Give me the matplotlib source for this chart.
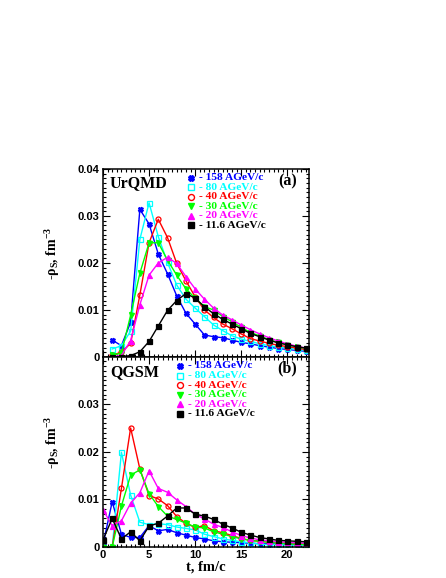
import matplotlib
matplotlib.use('Agg')
import matplotlib.pyplot as plt
from matplotlib.ticker import MultipleLocator

plt.rcParams['mathtext.fontset'] = 'custom'
plt.rcParams['mathtext.rm'] = 'Liberation Serif:bold'
plt.rcParams['mathtext.it'] = 'Liberation Serif:bold'
plt.rcParams['mathtext.bf'] = 'Liberation Serif:bold'

# Datos: UrQMD (t = 1..22)
t_urqmd = [1, 2, 3, 4, 5, 6, 7, 8, 9, 10, 11, 12, 13, 14, 15, 16, 17, 18, 19, 20, 21, 22]
u158 = [0.0036, 0.0024, 0.0074, 0.0314, 0.0283, 0.0219, 0.0177, 0.0130, 0.0093, 0.0070, 0.0047,
        0.0043, 0.0041, 0.0036, 0.0031, 0.0028, 0.0024, 0.0021, 0.0018, 0.0016, 0.0014, 0.0012]
u80 = [0.0017, 0.0024, 0.0055, 0.0250, 0.0328, 0.0256, 0.0201, 0.0153, 0.0123, 0.0104, 0.0086,
       0.0068, 0.0056, 0.0045, 0.0038, 0.0033, 0.0028, 0.0024, 0.0021, 0.0019, 0.0016, 0.0014]
u40 = [0.0004, 0.0010, 0.0029, 0.0132, 0.0243, 0.0293, 0.0254, 0.0199, 0.0162, 0.0128, 0.0100,
       0.0084, 0.0070, 0.0060, 0.0049, 0.0039, 0.0034, 0.0029, 0.0025, 0.0022, 0.0019, 0.0016]
u30 = [0.0004, 0.0008, 0.0089, 0.0178, 0.0243, 0.0243, 0.0206, 0.0174, 0.0145, 0.0125, 0.0107,
       0.0100, 0.0086, 0.0075, 0.0063, 0.0052, 0.0045, 0.0037, 0.0031, 0.0026, 0.0022, 0.0018]
u20 = [0.0001, 0.0003, 0.0035, 0.0111, 0.0174, 0.0200, 0.0212, 0.0199, 0.0171, 0.0145, 0.0123,
       0.0104, 0.0089, 0.0079, 0.0068, 0.0058, 0.0049, 0.0041, 0.0034, 0.0028, 0.0023, 0.0019]
u11 = [0.0000, 0.0001, 0.0003, 0.0011, 0.0033, 0.0066, 0.0099, 0.0120, 0.0135, 0.0125, 0.0107,
       0.0092, 0.0080, 0.0070, 0.0060, 0.0050, 0.0043, 0.0036, 0.0030, 0.0026, 0.0022, 0.0019]

# Datos: QGSM (t = 0..22)
t_qgsm = [0, 1, 2, 3, 4, 5, 6, 7, 8, 9, 10, 11, 12, 13, 14, 15, 16, 17, 18, 19, 20, 21, 22]
q158 = [0.0005, 0.0095, 0.0027, 0.0020, 0.0020, 0.0045, 0.0034, 0.0037, 0.0030, 0.0025, 0.0020, 0.0017,
        0.0013, 0.0011, 0.0010, 0.0009, 0.0008, 0.0007, 0.0007, 0.0006, 0.0006, 0.0005, 0.0005]
q80 = [0.0, 0.0, 0.0199, 0.0109, 0.0052, 0.0047, 0.0049, 0.0047, 0.0042, 0.0039, 0.0036, 0.0027,
       0.0022, 0.0017, 0.0014, 0.0011, 0.0009, 0.0006, 0.0005, 0.0005, 0.0004, 0.0004, 0.0004]
q40 = [0.0, 0.0, 0.0123, 0.0250, 0.0164, 0.0108, 0.0101, 0.0087, 0.0064, 0.0050, 0.0041, 0.0045,
       0.0034, 0.0030, 0.0024, 0.0018, 0.0014, 0.0012, 0.0010, 0.0009, 0.0008, 0.0007, 0.0006]
q30 = [0.0, 0.0, 0.0086, 0.0151, 0.0162, 0.0112, 0.0085, 0.0065, 0.0058, 0.0050, 0.0042, 0.0040,
       0.0032, 0.0027, 0.0022, 0.0017, 0.0014, 0.0012, 0.0010, 0.0008, 0.0007, 0.0006, 0.0005]
q20 = [0.0078, 0.0045, 0.0055, 0.0092, 0.0114, 0.0160, 0.0123, 0.0115, 0.0099, 0.0085, 0.0069, 0.0059,
       0.0048, 0.0041, 0.0032, 0.0024, 0.0019, 0.0015, 0.0013, 0.0011, 0.0010, 0.0009, 0.0008]
q11 = [0.0015, 0.0060, 0.0017, 0.0032, 0.0013, 0.0044, 0.0050, 0.0065, 0.0082, 0.0082, 0.0069, 0.0065,
       0.0058, 0.0048, 0.0040, 0.0031, 0.0025, 0.0020, 0.0017, 0.0014, 0.0013, 0.0012, 0.0011]

etiquetas = ['- 158 AGeV/c', '- 80 AGeV/c', '- 40 AGeV/c', '- 30 AGeV/c', '- 20 AGeV/c', '- 11.6 AGeV/c']
colores = ['#0000ff', '#00ffff', '#ff0000', '#00ff00', '#ff00ff', '#000000']
marcadores = ['X', 's', 'o', 'v', '^', 's']
rellenos = [True, False, False, True, True, True]

fig = plt.figure(figsize=(4.46, 5.78), dpi=100)
ax1 = fig.add_axes([0.2309, 0.3824, 0.4619, 0.3253])
ax2 = fig.add_axes([0.2309, 0.0536, 0.4619, 0.3287])

serif = 'Liberation Serif'
sans = 'Liberation Sans'


def dibujar(ax, t, series, leg_x, leg_y0):
    for y, c, m, f in zip(series, colores, marcadores, rellenos):
        ax.plot(t, y, color=c, lw=1.0, marker=m, ms=3.6,
                mfc=c if f else 'none', mec=c, mew=0.9)
    # leyenda manual
    for i, (c, m, f, lab) in enumerate(zip(colores, marcadores, rellenos, etiquetas)):
        yy = leg_y0 - i * 0.0505
        ax.plot([leg_x], [yy], transform=ax.transAxes, ls='none', marker=m, ms=4.3,
                mfc=c if f else 'none', mec=c, mew=1.0, color=c)
        ax.text(leg_x + 0.038, yy, lab, transform=ax.transAxes, color=c, fontsize=8.2,
                fontweight='bold', family=serif, va='center', ha='left')
    ax.set_xlim(0, 22.35)
    ax.xaxis.set_major_locator(MultipleLocator(5))
    ax.xaxis.set_minor_locator(MultipleLocator(0.5))
    ax.yaxis.set_minor_locator(MultipleLocator(0.001))
    ax.tick_params(which='both', direction='in', top=True, right=True, width=0.8)
    ax.tick_params(which='major', length=5)
    ax.tick_params(which='minor', length=2.5)
    ax.tick_params(axis='both', labelsize=8, pad=2.5)
    for s in ax.spines.values():
        s.set_linewidth(1.1)
    ax.set_ylabel(r'-$\rho_{S}$, fm$^{-3}$', fontsize=10, family=serif, fontweight='bold')
    ax.yaxis.set_label_coords(-0.20, 0.55)


dibujar(ax1, t_urqmd, [u158, u80, u40, u30, u20, u11], 0.427, 0.952)
dibujar(ax2, t_qgsm, [q158, q80, q40, q30, q20, q11], 0.374, 0.953)

ax1.set_ylim(0, 0.04)
ax2.set_ylim(0, 0.0399)
ax1.set_yticks([0, 0.01, 0.02, 0.03, 0.04])
ax1.set_yticklabels(['0', '0.01', '0.02', '0.03', '0.04'])
ax2.set_yticks([0, 0.01, 0.02, 0.03])
ax2.set_yticklabels(['0', '0.01', '0.02', '0.03'])
ax1.set_xticklabels([])
for ax in (ax1, ax2):
    for lbl in ax.get_xticklabels() + ax.get_yticklabels():
        lbl.set_fontfamily(sans)
        lbl.set_fontweight('bold')

ax1.text(0.034, 0.926, 'UrQMD', transform=ax1.transAxes, fontsize=11.5, fontweight='bold',
         family=serif, va='center', ha='left')
ax2.text(0.034, 0.921, 'QGSM', transform=ax2.transAxes, fontsize=11.5, fontweight='bold',
         family=serif, va='center', ha='left')
ax1.text(0.942, 0.936, '(a)', transform=ax1.transAxes, fontsize=11.5, fontweight='bold',
         family=serif, va='center', ha='right')
ax2.text(0.942, 0.942, '(b)', transform=ax2.transAxes, fontsize=11.5, fontweight='bold',
         family=serif, va='center', ha='right')

ax2.set_xlabel('t, fm/c', fontsize=10.5, family=serif, fontweight='bold', labelpad=0)

fig.savefig('out.png', dpi=100)
